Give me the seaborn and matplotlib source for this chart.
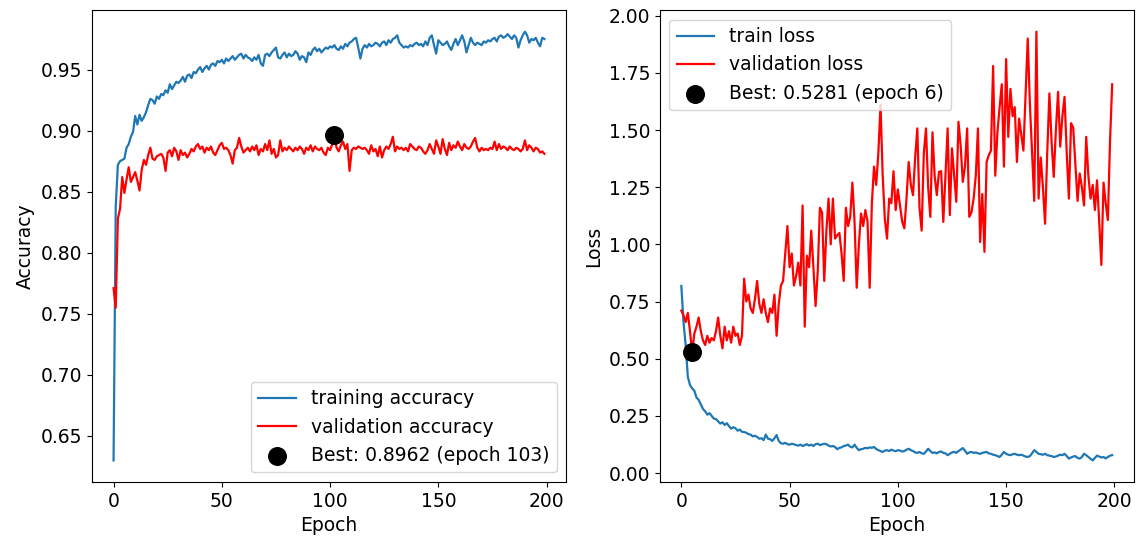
import numpy as np
import pandas as pd
import matplotlib
matplotlib.use("Agg")
import matplotlib.pyplot as plt
from matplotlib.ticker import MultipleLocator
import seaborn as sns

plt.rcParams["font.size"] = 13.5

train_acc = [
    0.630, 0.838, 0.872, 0.875, 0.876, 0.877, 0.886, 0.889, 0.895, 0.899,
    0.912, 0.905, 0.913, 0.908, 0.911, 0.915, 0.921, 0.926, 0.925, 0.922,
    0.928, 0.926, 0.930, 0.929, 0.933, 0.931, 0.938, 0.934, 0.937, 0.940,
    0.939, 0.941, 0.944, 0.940, 0.945, 0.946, 0.943, 0.948, 0.947, 0.950,
    0.952, 0.948, 0.951, 0.953, 0.950, 0.954, 0.955, 0.953, 0.957, 0.956,
    0.958, 0.955, 0.959, 0.957, 0.959, 0.961, 0.958, 0.960, 0.962, 0.963,
    0.959, 0.962, 0.960, 0.959, 0.957, 0.960, 0.958, 0.962, 0.955, 0.953,
    0.962, 0.963, 0.961, 0.964, 0.966, 0.968, 0.960, 0.959, 0.962, 0.964,
    0.960, 0.963, 0.961, 0.962, 0.965, 0.963, 0.958, 0.961, 0.960, 0.956,
    0.964, 0.962, 0.966, 0.968, 0.965, 0.967, 0.964, 0.966, 0.968, 0.967,
    0.969, 0.968, 0.970, 0.967, 0.966, 0.969, 0.967, 0.971, 0.969, 0.972,
    0.973, 0.975, 0.976, 0.968, 0.959, 0.967, 0.970, 0.968, 0.971, 0.969,
    0.970, 0.972, 0.971, 0.969, 0.972, 0.973, 0.970, 0.974, 0.972, 0.975,
    0.976, 0.978, 0.972, 0.970, 0.968, 0.969, 0.968, 0.970, 0.969, 0.971,
    0.972, 0.970, 0.971, 0.969, 0.973, 0.970, 0.976, 0.978, 0.970, 0.963,
    0.974, 0.972, 0.970, 0.971, 0.973, 0.969, 0.966, 0.971, 0.975, 0.970,
    0.974, 0.978, 0.973, 0.964, 0.970, 0.976, 0.972, 0.970, 0.972, 0.971,
    0.970, 0.973, 0.972, 0.974, 0.973, 0.975, 0.976, 0.973, 0.977, 0.978,
    0.976, 0.977, 0.979, 0.977, 0.975, 0.978, 0.976, 0.968, 0.974, 0.978,
    0.981, 0.978, 0.972, 0.975, 0.974, 0.976, 0.972, 0.969, 0.976, 0.975,
]

val_acc = [
    0.771, 0.755, 0.828, 0.836, 0.862, 0.849, 0.860, 0.870, 0.858, 0.862,
    0.866, 0.859, 0.851, 0.868, 0.876, 0.872, 0.880, 0.886, 0.877, 0.876,
    0.879, 0.880, 0.881, 0.878, 0.867, 0.882, 0.884, 0.879, 0.886, 0.883,
    0.876, 0.884, 0.880, 0.882, 0.878, 0.881, 0.885, 0.883, 0.887, 0.889,
    0.885, 0.887, 0.882, 0.886, 0.884, 0.887, 0.882, 0.880, 0.884, 0.888,
    0.890, 0.885, 0.886, 0.884, 0.880, 0.873, 0.884, 0.886, 0.894, 0.887,
    0.882, 0.884, 0.886, 0.883, 0.887, 0.884, 0.888, 0.880, 0.885, 0.883,
    0.889, 0.884, 0.892, 0.881, 0.885, 0.878, 0.880, 0.892, 0.883, 0.886,
    0.884, 0.887, 0.885, 0.883, 0.886, 0.884, 0.887, 0.885, 0.881, 0.886,
    0.884, 0.888, 0.883, 0.887, 0.885, 0.884, 0.886, 0.882, 0.880, 0.886,
    0.884, 0.889, 0.8962, 0.886, 0.883, 0.888, 0.891, 0.885, 0.889, 0.867,
    0.884, 0.886, 0.885, 0.887, 0.886, 0.885, 0.886, 0.884, 0.881, 0.888,
    0.883, 0.885, 0.879, 0.887, 0.878, 0.884, 0.887, 0.885, 0.889, 0.895,
    0.883, 0.887, 0.885, 0.886, 0.884, 0.886, 0.883, 0.889, 0.887, 0.885,
    0.884, 0.887, 0.886, 0.883, 0.881, 0.884, 0.889, 0.885, 0.881, 0.892,
    0.887, 0.881, 0.893, 0.885, 0.880, 0.890, 0.884, 0.888, 0.886, 0.891,
    0.887, 0.884, 0.889, 0.886, 0.885, 0.887, 0.891, 0.894, 0.886, 0.883,
    0.886, 0.884, 0.885, 0.884, 0.886, 0.885, 0.891, 0.884, 0.889, 0.885,
    0.887, 0.886, 0.884, 0.887, 0.885, 0.884, 0.886, 0.885, 0.883, 0.885,
    0.892, 0.884, 0.888, 0.886, 0.883, 0.886, 0.885, 0.882, 0.883, 0.881,
]

train_loss = [
    0.818, 0.660, 0.560, 0.420, 0.385, 0.370, 0.360, 0.330, 0.320, 0.300,
    0.280, 0.270, 0.255, 0.262, 0.250, 0.238, 0.236, 0.226, 0.216, 0.222,
    0.210, 0.218, 0.205, 0.194, 0.200, 0.196, 0.185, 0.190, 0.180, 0.179,
    0.176, 0.170, 0.168, 0.160, 0.163, 0.158, 0.150, 0.152, 0.144, 0.168,
    0.150, 0.148, 0.140, 0.152, 0.166, 0.140, 0.130, 0.128, 0.132, 0.126,
    0.124, 0.128, 0.126, 0.122, 0.120, 0.124, 0.118, 0.122, 0.126, 0.120,
    0.124, 0.118, 0.126, 0.128, 0.122, 0.125, 0.128, 0.126, 0.120, 0.116,
    0.118, 0.114, 0.104, 0.110, 0.112, 0.118, 0.120, 0.124, 0.115, 0.112,
    0.124, 0.110, 0.100, 0.104, 0.106, 0.110, 0.108, 0.112, 0.110, 0.114,
    0.105, 0.100, 0.096, 0.092, 0.098, 0.100, 0.096, 0.102, 0.098, 0.095,
    0.100, 0.098, 0.094, 0.096, 0.102, 0.106, 0.100, 0.096, 0.090, 0.088,
    0.092, 0.086, 0.084, 0.094, 0.106, 0.096, 0.088, 0.090, 0.086, 0.092,
    0.094, 0.088, 0.086, 0.078, 0.084, 0.090, 0.092, 0.088, 0.096, 0.102,
    0.109, 0.098, 0.084, 0.090, 0.092, 0.088, 0.090, 0.086, 0.084, 0.088,
    0.090, 0.092, 0.086, 0.084, 0.080, 0.078, 0.074, 0.070, 0.080, 0.092,
    0.084, 0.080, 0.078, 0.082, 0.084, 0.080, 0.078, 0.080, 0.076, 0.072,
    0.070, 0.074, 0.086, 0.100, 0.092, 0.084, 0.082, 0.080, 0.084, 0.078,
    0.076, 0.074, 0.070, 0.072, 0.076, 0.080, 0.078, 0.084, 0.074, 0.063,
    0.068, 0.072, 0.074, 0.066, 0.063, 0.070, 0.084, 0.078, 0.070, 0.062,
    0.055, 0.066, 0.076, 0.072, 0.068, 0.070, 0.064, 0.070, 0.076, 0.078,
]

val_loss = [
    0.710, 0.690, 0.660, 0.700, 0.620, 0.5281, 0.610, 0.640, 0.680, 0.620,
    0.580, 0.560, 0.600, 0.570, 0.590, 0.580, 0.620, 0.680, 0.600, 0.545,
    0.640, 0.580, 0.620, 0.570, 0.640, 0.600, 0.610, 0.560, 0.600, 0.850,
    0.750, 0.780, 0.720, 0.700, 0.760, 0.840, 0.740, 0.700, 0.760, 0.700,
    0.660, 0.720, 0.700, 0.780, 0.600, 0.740, 0.820, 0.840, 0.960, 1.080,
    0.900, 0.960, 0.820, 0.860, 0.920, 0.820, 1.170, 0.640, 0.950, 0.900,
    1.060, 0.900, 0.730, 0.880, 1.160, 1.140, 0.840, 1.060, 1.200, 1.000,
    1.200, 1.025, 1.040, 1.050, 0.960, 0.840, 1.160, 1.080, 1.120, 1.270,
    1.100, 0.810, 1.000, 1.135, 1.080, 1.150, 1.100, 0.810, 1.180, 1.340,
    1.260, 1.400, 1.610, 1.300, 1.110, 1.025, 1.200, 1.180, 1.320, 1.150,
    1.240, 1.170, 1.100, 1.070, 1.200, 1.360, 1.260, 1.215, 1.380, 1.507,
    1.160, 1.060, 1.400, 1.507, 1.250, 1.120, 1.490, 1.300, 1.215, 1.317,
    1.320, 1.098, 1.300, 1.507, 1.128, 1.420, 1.300, 1.186, 1.536, 1.434,
    1.273, 1.340, 1.507, 1.120, 1.140, 1.200, 1.300, 1.507, 1.010, 1.220,
    0.967, 1.360, 1.390, 1.410, 1.780, 1.300, 1.490, 1.600, 1.700, 1.340,
    1.810, 1.470, 1.680, 1.560, 1.600, 1.360, 1.550, 1.480, 1.410, 1.650,
    1.900, 1.610, 1.400, 1.190, 1.930, 1.200, 1.380, 1.250, 1.090, 1.400,
    1.660, 1.450, 1.295, 1.500, 1.667, 1.427, 1.560, 1.645, 1.400, 1.200,
    1.530, 1.510, 1.350, 1.190, 1.310, 1.250, 1.170, 1.470, 1.300, 1.200,
    1.260, 1.150, 1.280, 1.100, 0.910, 1.270, 1.180, 1.106, 1.450, 1.700,
]

epochs = np.arange(len(train_acc))
df = pd.DataFrame({
    "epoch": epochs,
    "train_acc": train_acc,
    "val_acc": val_acc,
    "train_loss": train_loss,
    "val_loss": val_loss,
})

best_acc_idx = int(np.argmax(val_acc))
best_loss_idx = int(np.argmin(val_loss))

fig, (ax1, ax2) = plt.subplots(1, 2, figsize=(11.36, 5.39), dpi=100)
fig.subplots_adjust(left=0.081, right=0.998, top=0.981, bottom=0.106, wspace=0.198)

# Accuracy panel
sns.lineplot(data=df, x="epoch", y="train_acc", ax=ax1, color="#1f77b4",
             linewidth=1.6, label="training accuracy")
sns.lineplot(data=df, x="epoch", y="val_acc", ax=ax1, color="red",
             linewidth=1.6, label="validation accuracy")
sns.scatterplot(x=[epochs[best_acc_idx]], y=[val_acc[best_acc_idx]], ax=ax1,
                color="black", s=160, edgecolor="black", zorder=5,
                label=f"Best: {val_acc[best_acc_idx]:.4f} (epoch {best_acc_idx + 1})")
ax1.set_xlabel("Epoch")
ax1.set_ylabel("Accuracy")
ax1.xaxis.set_major_locator(MultipleLocator(50))
ax1.legend(loc="lower right")

# Loss panel
sns.lineplot(data=df, x="epoch", y="train_loss", ax=ax2, color="#1f77b4",
             linewidth=1.6, label="train loss")
sns.lineplot(data=df, x="epoch", y="val_loss", ax=ax2, color="red",
             linewidth=1.6, label="validation loss")
sns.scatterplot(x=[epochs[best_loss_idx]], y=[val_loss[best_loss_idx]], ax=ax2,
                color="black", s=160, edgecolor="black", zorder=5,
                label=f"Best: {val_loss[best_loss_idx]:.4f} (epoch {best_loss_idx + 1})")
ax2.set_xlabel("Epoch")
ax2.set_ylabel("Loss")
ax2.xaxis.set_major_locator(MultipleLocator(50))
ax2.yaxis.set_major_locator(MultipleLocator(0.25))
ax2.legend(loc="upper left")

fig.savefig("out.png", dpi=100)
